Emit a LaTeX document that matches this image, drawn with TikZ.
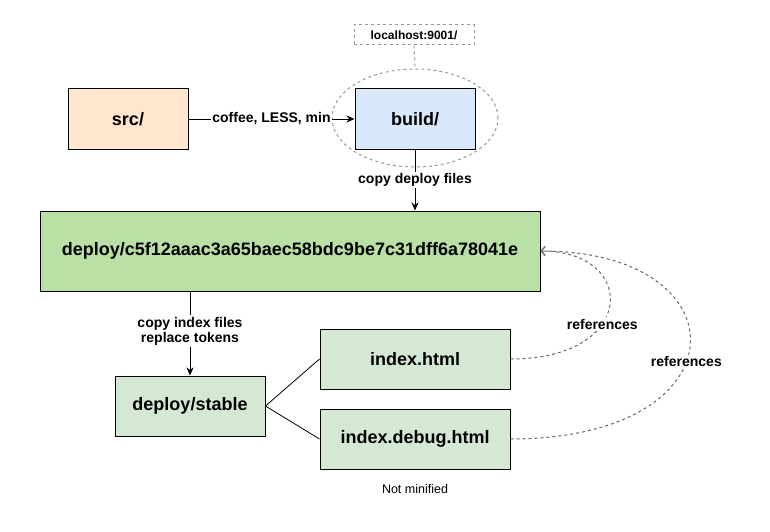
\documentclass[tikz,border=0pt]{standalone}
\usepackage{fontspec}
\setmainfont{Liberation Sans}
\usetikzlibrary{arrows.meta,shapes.geometric}
\definecolor{srcfill}{HTML}{FFE6CC}
\definecolor{buildfill}{HTML}{DAE8FC}
\definecolor{deployfill}{HTML}{B9E0A5}
\definecolor{lightgreen}{HTML}{D5E8D4}
\definecolor{dashgray}{HTML}{999999}
\definecolor{curvegray}{HTML}{666666}
\tikzset{
  box/.style={draw=black, line width=1pt, minimum width=#1, inner sep=0pt, font=\fontsize{18}{21}\selectfont\bfseries},
  box/.default=120pt,
  lbl/.style={fill=white, inner sep=1.5pt, font=\fontsize{14}{16}\selectfont\bfseries, align=center},
  arr/.style={draw=black, line width=1pt, -{Stealth[length=8pt,width=7pt,inset=2.5pt]}},
  refline/.style={draw=curvegray, line width=1pt, dash pattern=on 3pt off 3pt},
}
\begin{document}
\begin{tikzpicture}[x=1pt,y=-1pt]
\useasboundingbox (0,0) rectangle (770,532);
% ellipse around build
\node[draw=dashgray, line width=1pt, dash pattern=on 3pt off 3pt, ellipse, minimum width=166pt, minimum height=98pt, inner sep=0pt] (ell) at (415,118) {};
\node[draw=dashgray, line width=1pt, dash pattern=on 3pt off 3pt, minimum width=120pt, minimum height=20pt, inner sep=0pt, font=\fontsize{12}{14}\selectfont\bfseries] (host) at (414,35) {localhost:9001/};
\draw[draw=dashgray, line width=1pt, dash pattern=on 3pt off 3pt] (host.south) -- (ell.north);
\node[box, fill=srcfill, minimum height=60pt] (src) at (128,119) {src/};
\node[box, fill=buildfill, minimum height=60pt] (build) at (415,119) {build/};
\node[box=500pt, fill=deployfill, minimum height=80pt] (deploy) at (290,251) {deploy/c5f12aaac3a65baec58bdc9be7c31dff6a78041e};
\node[box=150pt, fill=lightgreen, minimum height=60pt] (stable) at (190,406) {deploy/stable};
\node[box=190pt, fill=lightgreen, minimum height=60pt] (index) at (415,359) {index.html};
\node[box=190pt, fill=lightgreen, minimum height=60pt] (debug) at (415,439) {index.debug.html};
\node[font=\fontsize{12.5}{14}\selectfont] (note) at (415,489) {Not minified};
% connectors
\draw[arr] (src.east) -- node[lbl]{coffee, LESS, min} (build.west);
\draw[arr] (build.south) -- node[lbl, pos=0.5]{copy deploy files} (build.south |- deploy.north);
\draw[arr] (stable.north |- deploy.south) -- node[lbl, pos=0.47]{copy index files\\[-1pt]replace tokens} (stable.north);
\draw[line width=0.8pt] (stable.east) -- (index.west);
\draw[line width=0.8pt] (stable.east) -- (debug.west);
\draw[refline, -{Straight Barb[length=4pt,width=9pt]}] (index.east) .. controls (638,359) and (638,251) .. node[lbl, pos=0.38]{references} (deploy.east);
\draw[refline, -{Straight Barb[length=4pt,width=9pt]}] (debug.east) .. controls (745,439) and (745,251) .. node[lbl, pos=0.44]{references} (deploy.east);
\end{tikzpicture}
\end{document}
